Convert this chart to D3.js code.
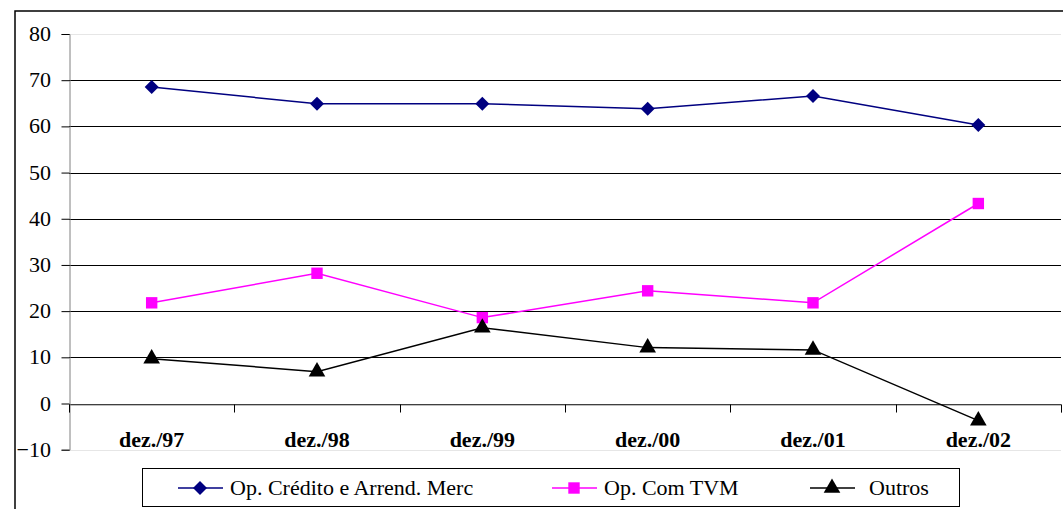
<!DOCTYPE html>
<html><head><meta charset="utf-8">
<script src="https://cdn.jsdelivr.net/npm/d3@7"></script>
</head><body style="margin:0">
<svg id="c" width="1063" height="509"></svg>
<script>
const categories = ["dez./97","dez./98","dez./99","dez./00","dez./01","dez./02"];
const seriesNames = ["Op. Crédito e Arrend. Merc","Op. Com TVM","Outros"];
const credito = [68.5, 64.9, 64.9, 63.8, 66.6, 60.3];
const tvm = [21.8, 28.2, 18.6, 24.4, 21.8, 43.3];
const outros = [9.7, 6.9, 16.4, 12.1, 11.6, -3.7];
const yTicks = [-10, 0, 10, 20, 30, 40, 50, 60, 70, 80];

const FONT = "Times New Roman";
const svg = d3.select("#c");
const L = 69, R = 1061, T = 34, B = 449.7;
const x = d3.scaleBand().domain(categories).range([L, R]);
const y = d3.scaleLinear().domain([-10, 80]).range([B, T]);

svg.append("rect").attr("x",15).attr("y",11).attr("width",1100).attr("height",600)
  .attr("fill","none").attr("stroke","#000").attr("stroke-width",1.5);

svg.append("g").selectAll("line").data(yTicks).join("line")
  .attr("x1",L).attr("x2",R)
  .attr("y1",d=>Math.round(y(d))+0.5).attr("y2",d=>Math.round(y(d))+0.5)
  .attr("stroke",d=>(d===80||d===-10)?"#e6e6e6":"#000").attr("stroke-width",1);

const ya = svg.append("g").attr("transform",`translate(${L+0.5},0)`)
  .call(d3.axisLeft(y).tickValues(yTicks).tickSize(8).tickFormat(""));
ya.select(".domain").attr("stroke","#808080");
ya.selectAll(".tick line").attr("stroke","#000");
ya.selectAll(".tick text").remove();
svg.selectAll("text.yl").data(yTicks).join("text").attr("class","yl")
  .attr("x",51).attr("y",d=>y(d)+7).attr("text-anchor","end")
  .style("font-family",FONT).attr("font-size",22).text(d=>d3.format("d")(d));

const xa = svg.append("g").attr("transform",`translate(0,${Math.round(y(0))+0.5})`)
  .call(d3.axisBottom(x).tickSize(8).tickFormat(""));
xa.select(".domain").attr("stroke","#808080");
xa.selectAll(".tick").remove();
const bounds = d3.range(categories.length+1).map(i=>L + i*x.step());
xa.selectAll(".bt").data(bounds).join("line").attr("class","bt")
  .attr("x1",d=>Math.round(d)+0.5).attr("x2",d=>Math.round(d)+0.5).attr("y1",0).attr("y2",8)
  .attr("stroke","#000");
svg.selectAll("text.xl").data(categories).join("text").attr("class","xl")
  .attr("x",d=>x(d)+x.bandwidth()/2).attr("y",447)
  .style("font-family",FONT).attr("font-size",22).attr("font-weight","bold")
  .attr("text-anchor","middle").text(d=>d);

const cx = d => x(d)+x.bandwidth()/2;
const line = d3.line().x((d,i)=>cx(categories[i])).y(d=>y(d));
const diamond = "M0,-7L7,0L0,7L-7,0Z";
const series = [
  {name:seriesNames[0], values:credito, color:"#000080", path:diamond},
  {name:seriesNames[1], values:tvm, color:"#ff00ff", path:d3.symbol().type(d3.symbolSquare).size(130)()},
  {name:seriesNames[2], values:outros, color:"#000000", path:d3.symbol().type(d3.symbolTriangle).size(120)()}
];
series.forEach(s=>{
  svg.append("path").attr("d",line(s.values)).attr("fill","none").attr("stroke",s.color).attr("stroke-width",1.5);
  svg.append("g").selectAll("path").data(s.values).join("path")
    .attr("d",s.path)
    .attr("transform",(d,i)=>`translate(${cx(categories[i])},${y(d)})`)
    .attr("fill",s.color);
});

svg.append("rect").attr("x",142.5).attr("y",468.5).attr("width",817).attr("height",38)
  .attr("fill","#fff").attr("stroke","#000").attr("stroke-width",1);
const legX = [178, 552, 810];
series.forEach((s,i)=>{
  svg.append("line").attr("x1",legX[i]).attr("x2",legX[i]+45).attr("y1",488).attr("y2",488)
    .attr("stroke",s.color).attr("stroke-width",1.5);
  svg.append("path").attr("d",s.path).attr("transform",`translate(${legX[i]+22},488)`).attr("fill",s.color);
});
svg.selectAll("text.lg").data(seriesNames).join("text").attr("class","lg")
  .attr("x",(d,i)=>legX[i]+(i===2?59:52)).attr("y",495)
  .style("font-family",FONT).attr("font-size",22).text(d=>d);
</script>
</body></html>
